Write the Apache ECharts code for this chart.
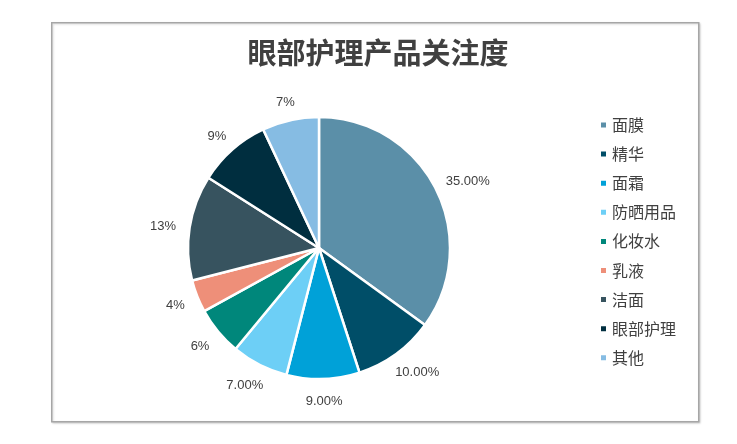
<!DOCTYPE html>
<html><head><meta charset="utf-8">
<script src="https://cdn.jsdelivr.net/npm/echarts@6/dist/echarts.min.js"></script>
<style>html,body{margin:0;padding:0;background:#fff}#c{width:737px;height:444px}</style>
</head><body><div id="c"></div>
<script>
const titleText = '眼部护理产品关注度';
const categories = ['面膜','精华','面霜','防晒用品','化妆水','乳液','洁面','眼部护理','其他'];
const values = [35, 10, 9, 7, 6, 4, 13, 9, 7];
const labelTexts = ['35.00%','10.00%','9.00%','7.00%','6%','4%','13%','9%','7%'];
const colors = ['#5b8fa8','#004e68','#00a1d8','#6dcff6','#00877b','#ee8f79','#37535f','#002e3f','#86bce3'];

const CX = 319, CY = 248, R = 131, GAP = 14;
const total = values.reduce((a, b) => a + b, 0);
const midAngles = [];
{ let acc = 0; values.forEach(v => { midAngles.push((acc + v / 2) / total * Math.PI * 2); acc += v; }); }

const chart = echarts.init(document.getElementById('c'));
chart.setOption({
  animation: false,
  color: colors,
  graphic: [{
    type: 'rect', left: 51, top: 22, shape: {width: 647, height: 399},
    style: {fill: '#fff', stroke: '#a6a6a6', lineWidth: 1.5, shadowBlur: 2, shadowColor: 'rgba(0,0,0,0.15)', shadowOffsetX: 1, shadowOffsetY: 1},
    z: -10
  }],
  title: {
    text: titleText, left: 373, top: 33, textAlign: 'center',
    textStyle: {fontFamily: 'Noto Sans CJK SC', fontSize: 29, fontWeight: 'bold', color: '#404040'}
  },
  legend: {
    orient: 'vertical', left: 594, top: 110,
    icon: 'rect', itemWidth: 7, itemHeight: 7, itemGap: 9.1, itemTextGap: 10,
    textStyle: {fontFamily: 'Noto Sans CJK SC', fontSize: 16, color: '#404040', lineHeight: 20},
    data: categories
  },
  series: [{
    type: 'pie', center: [CX, CY], radius: R, startAngle: 90, clockwise: true,
    avoidLabelOverlap: false,
    itemStyle: {borderColor: '#fff', borderWidth: 2.5},
    label: {
      position: 'outside', fontFamily: 'Liberation Sans', fontSize: 13, color: '#404040',
      formatter: p => labelTexts[p.dataIndex]
    },
    labelLine: {show: false, length: 13, length2: 0},
    labelLayout: function (p) {
      const a = midAngles[p.dataIndex];
      const dx = Math.sin(a), dy = -Math.cos(a);
      const w = p.labelRect.width, h = p.labelRect.height;
      return {
        x: CX + (R + GAP + w / 2) * dx,
        y: CY + 2 + (R + GAP + h / 2) * dy,
        align: 'center', verticalAlign: 'middle'
      };
    },
    data: categories.map((n, i) => ({name: n, value: values[i]}))
  }]
});
</script></body></html>
